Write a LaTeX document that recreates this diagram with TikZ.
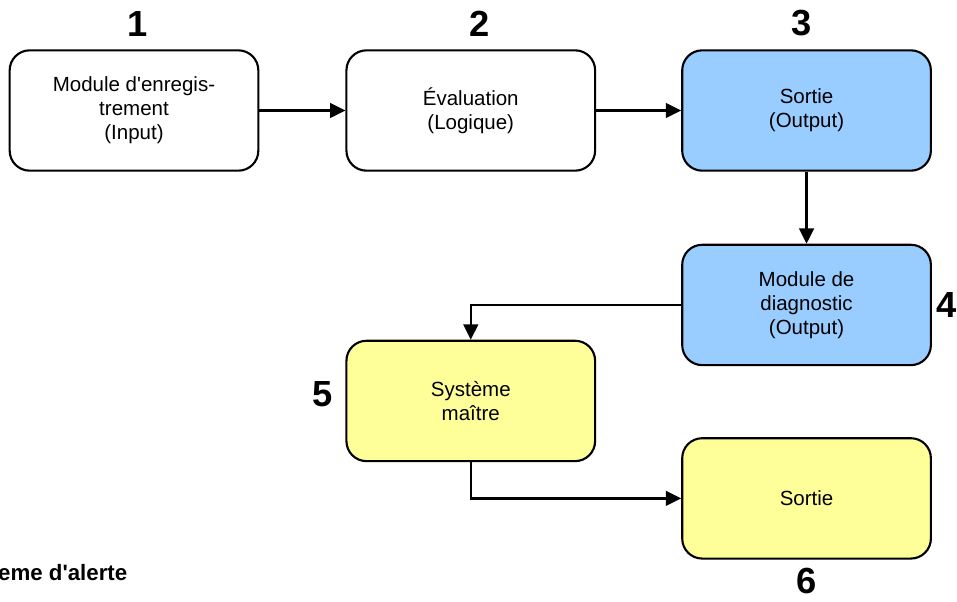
\documentclass[tikz,border=0pt]{standalone}
\usepackage{fontspec}
\setmainfont{Liberation Sans}
\usetikzlibrary{positioning,arrows.meta}
\definecolor{lightblue}{RGB}{153,204,255}
\definecolor{lightyellow}{RGB}{255,255,153}

\begin{document}
\begin{tikzpicture}[
    node distance=2.58cm,
    >={Triangle[length=0.46cm,width=0.44cm]},
    box/.style={rectangle, draw, line width=1.8pt, minimum width=7.46cm, minimum height=3.61cm, rounded corners=0.6cm, align=center, inner sep=0pt, font=\fontsize{17.5}{20.5}\selectfont},
    num/.style={inner sep=0pt, font=\fontsize{31}{31}\selectfont\bfseries},
    link/.style={->, line width=2.1pt}
]
    \useasboundingbox (0,0) rectangle (28.71,-18.03);

    \node[box] (input) at (4.02,-3.315) {Module d\textquotesingle enregis-\\trement\\(Input)};
    \node[box, right=of input] (eval) {Évaluation\\(Logique)};
    \node[box, fill=lightblue, right=2.55cm of eval] (output) {Sortie\\(Output)};
    \node[box, fill=lightblue, below=2.16cm of output] (diag) {Module de\\diagnostic\\(Output)};
    \node[box, fill=lightyellow, below=5.04cm of eval] (master) {Système\\maître};
    \node[box, fill=lightyellow, below=2.13cm of diag] (final) {Sortie};

    % Numbers
    \node[num, above=0.38cm of input, xshift=0.12cm] (n1) {1};
    \node[num, above=0.38cm of eval, xshift=0.27cm] (n2) {2};
    \node[num, above=0.38cm of output, xshift=-0.15cm] (n3) {3};
    \node[num, right=0.12cm of diag] (n4) {4};
    \node[num, left=0.36cm of master, yshift=0.2cm] (n5) {5};
    \node[num, below=0.24cm of final] (n6) {6};

    \node[anchor=west, inner sep=0pt, font=\fontsize{19}{19}\selectfont\bfseries] (alert) at (-0.06,-17.19) {eme d\textquotesingle alerte};

    \draw[link] (input) -- (eval);
    \draw[link] (eval) -- (output);
    \draw[link] (output) -- (diag);
    \draw[link] (diag.west) -| (master.north);
    \draw[link] (master.south) |- (final.west);
\end{tikzpicture}
\end{document}
